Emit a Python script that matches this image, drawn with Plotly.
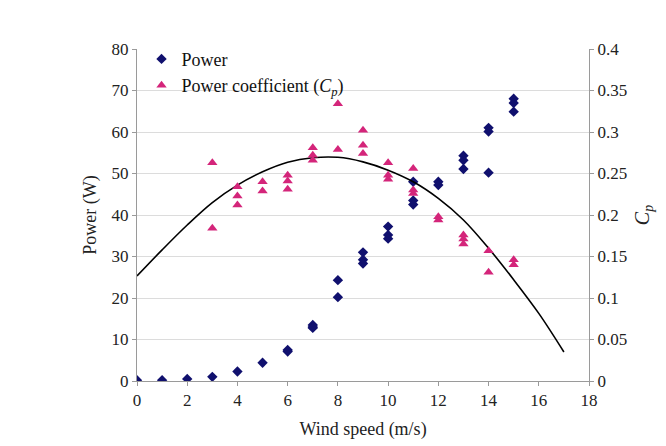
import plotly.graph_objects as go

# Power measurements
power_wind = [0, 1, 2, 3, 4, 5, 6, 6, 7, 7, 7, 8, 8, 9, 9, 9, 10, 10, 10,
              11, 11, 11, 12, 12, 13, 13, 13, 14, 14, 14, 15, 15, 15]
power_w = [0.2, 0.2, 0.5, 1.0, 2.3, 4.4, 7.5, 7.1, 13.5, 13.0, 12.8, 24.3, 20.2,
           31.0, 29.2, 28.3, 37.2, 35.2, 34.3, 48.0, 43.5, 42.5, 48.0, 47.2,
           54.3, 53.2, 51.1, 61.0, 60.1, 50.2, 68.0, 67.0, 64.9]

# Power coefficient measurements
cp_wind = [3, 3, 4, 4, 4, 5, 5, 6, 6, 6, 7, 7, 7, 8, 8, 9, 9, 9, 10, 10, 10,
           11, 11, 11, 12, 12, 13, 13, 13, 14, 14, 15, 15]
cp_vals = [0.263, 0.184, 0.234, 0.223, 0.212, 0.240, 0.229, 0.248, 0.241, 0.231,
           0.281, 0.272, 0.266, 0.334, 0.279, 0.302, 0.284, 0.274, 0.263, 0.248,
           0.243, 0.256, 0.230, 0.226, 0.198, 0.194, 0.176, 0.171, 0.165,
           0.157, 0.131, 0.146, 0.140]

# Trend curve
trend_x = list(range(0, 18))
trend_cp = [0.1265, 0.158, 0.188, 0.215, 0.236, 0.252, 0.2635, 0.269, 0.2695,
            0.264, 0.254, 0.240, 0.220, 0.194, 0.160, 0.122, 0.0815, 0.035]

x_ticks = list(range(0, 19, 2))
y_ticks = list(range(0, 81, 10))
y2_ticks = [0, 0.05, 0.1, 0.15, 0.2, 0.25, 0.3, 0.35, 0.4]
y2_labels = ["0", "0.05", "0.1", "0.15", "0.2", "0.25", "0.3", "0.35", "0.4"]

FONT = "Liberation Serif"
NAVY = "#10106e"
PINK = "#d4257a"

fig = go.Figure()
fig.add_trace(go.Scatter(
    x=trend_x, y=trend_cp, yaxis="y2", mode="lines", line_shape="spline",
    line=dict(color="black", width=1.6), showlegend=False, hoverinfo="skip"))
fig.add_trace(go.Scatter(
    x=power_wind, y=power_w, mode="markers", name="Power",
    marker=dict(symbol="diamond", size=8, color=NAVY)))
fig.add_trace(go.Scatter(
    x=cp_wind, y=cp_vals, yaxis="y2", mode="markers",
    name="Power coefficient (<i>C<sub>p</sub></i>)",
    marker=dict(symbol="triangle-up", size=9, color=PINK)))

fig.update_layout(
    width=666, height=446,
    margin=dict(l=137, r=77, t=49, b=65),
    paper_bgcolor="white", plot_bgcolor="white",
    font=dict(family=FONT, size=17, color="#222"),
    showlegend=True,
    legend=dict(x=0.01, y=1.025, xanchor="left", yanchor="top",
                bgcolor="rgba(0,0,0,0)", font=dict(family=FONT, size=18, color="#111"),
                tracegroupgap=0, itemwidth=30),
    xaxis=dict(range=[0, 18], tickvals=x_ticks, showgrid=False,
               showline=True, linecolor="#9a9a9a", linewidth=1,
               ticks="outside", ticklen=4, tickcolor="#9a9a9a",
               zeroline=False,
               title=dict(text="Wind speed (m/s)", font=dict(size=18), standoff=12),
               tickfont=dict(size=17)),
    yaxis=dict(range=[0, 80], tickvals=y_ticks, showgrid=True, gridcolor="#dcdcdc",
               showline=True, linecolor="#9a9a9a", linewidth=1,
               ticks="outside", ticklen=4, tickcolor="#9a9a9a", zeroline=False,
               title=dict(text="Power (W)", font=dict(size=18), standoff=10),
               tickfont=dict(size=17)),
    yaxis2=dict(range=[0, 0.4], tickvals=y2_ticks, ticktext=y2_labels,
                overlaying="y", side="right", showgrid=False,
                showline=True, linecolor="#9a9a9a", linewidth=1,
                ticks="outside", ticklen=4, tickcolor="#9a9a9a", zeroline=False,
                title=dict(text="<i>C<sub>p</sub></i>", font=dict(size=20), standoff=8),
                tickfont=dict(size=17)),
)

fig.write_html("out.html")
